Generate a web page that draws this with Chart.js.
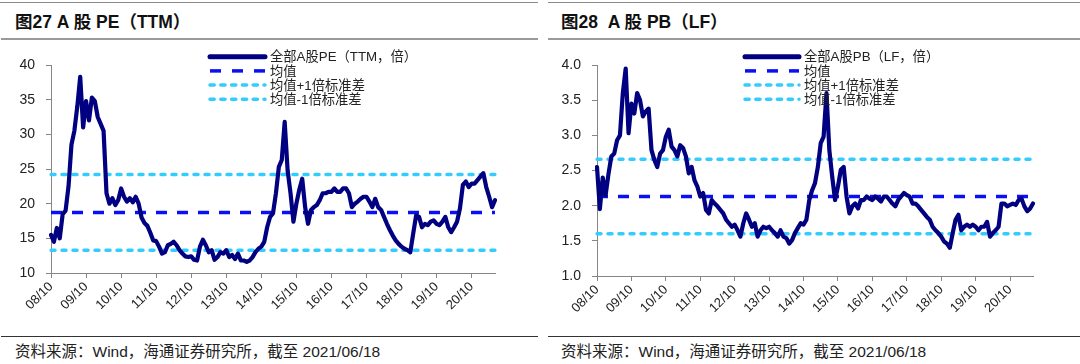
<!DOCTYPE html>
<html>
<head>
<meta charset="utf-8">
<script src="https://cdn.jsdelivr.net/npm/chart.js@4.4.1/dist/chart.umd.min.js"></script>
<style>
  html, body { margin: 0; padding: 0; background: #fff; }
  body { width: 1080px; height: 364px; position: relative; overflow: hidden;
         font-family: "Liberation Sans", Arial, "Noto Sans CJK SC", sans-serif; }
  .rule { position: absolute; height: 0; }
  .title { position: absolute; top: 10px; font-size: 17.5px; font-weight: bold; color: #111; white-space: pre; line-height: 24px; }
  .source { position: absolute; top: 342px; font-size: 15.5px; color: #222; white-space: pre; line-height: 20px; }
  canvas { position: absolute; top: 40px; }
</style>
</head>
<body>
<div class="rule" style="left:0;width:538px;top:2px;border-top:1px solid #8a8a8a"></div>
<div class="rule" style="left:548px;width:532px;top:2px;border-top:1px solid #8a8a8a"></div>
<div class="title" style="left:15px">图27 A 股 PE（TTM）</div>
<div class="title" style="left:561px">图28  A 股 PB（LF）</div>
<div class="rule" style="left:1px;width:537px;top:38px;border-top:2px solid #9a9a9a"></div>
<div class="rule" style="left:548px;width:532px;top:38px;border-top:2px solid #9a9a9a"></div>
<canvas id="pe" width="540" height="290" style="left:0"></canvas>
<canvas id="pb" width="540" height="290" style="left:540px"></canvas>
<div class="rule" style="left:1px;width:537px;top:336px;border-top:1px solid #333"></div>
<div class="rule" style="left:548px;width:532px;top:336px;border-top:1px solid #333"></div>
<div class="source" style="left:15px">资料来源：Wind，海通证券研究所，截至 2021/06/18</div>
<div class="source" style="left:561px">资料来源：Wind，海通证券研究所，截至 2021/06/18</div>

<script>
// monthly readings, Oct 2008 .. Jun 2021
const startYear = 2008;
const startMonth = 10;
const tickLabels = ['08/10', '09/10', '10/10', '11/10', '12/10', '13/10', '14/10',
  '15/10', '16/10', '17/10', '18/10', '19/10', '20/10'];

const peValues = [
  15.5, 14.5, 16.5, 15.0, 18.5, 19.0, 22.5, 28.5, 30.5, 34.0,
  38.3, 31.0, 34.8, 32.0, 35.3, 34.8, 32.5, 31.5, 30.5, 21.5,
  20.0, 20.8, 19.8, 20.5, 22.2, 21.0, 20.3, 20.8, 20.2, 21.0,
  20.0, 18.0, 17.2, 16.8, 15.8, 14.7, 14.6, 13.8, 12.8, 13.0,
  14.0, 14.2, 14.5, 14.0, 13.3, 12.8, 12.4, 12.3, 12.4, 11.9,
  11.8, 13.8, 14.8, 14.0, 13.0, 13.3, 11.9, 12.3, 13.0, 12.8,
  13.3, 12.3, 12.6, 12.0, 12.8, 11.8, 11.8, 11.6, 11.8, 12.3,
  13.0, 13.5, 13.8, 14.5, 16.6, 18.1, 18.6, 21.5, 25.3, 26.3,
  31.8, 24.8, 21.5, 17.4, 20.0, 22.0, 23.6, 19.5, 17.1, 19.1,
  19.5, 19.8, 20.5, 21.5, 21.5, 21.7, 21.7, 22.2, 21.7, 21.7,
  22.2, 22.2, 21.5, 19.5, 20.0, 20.3, 20.7, 21.0, 21.0, 20.3,
  19.5, 20.7, 19.5, 19.1, 18.1, 17.1, 16.2, 15.4, 14.7, 14.2,
  13.8, 13.5, 13.3, 13.0, 15.7, 18.3, 18.1, 16.6, 17.1, 16.9,
  17.4, 17.6, 17.1, 16.9, 17.4, 18.1, 16.6, 15.9, 16.6, 17.4,
  19.3, 22.7, 23.2, 22.4, 22.9, 22.9, 23.4, 23.9, 24.4, 22.4,
  21.0, 19.5, 20.5
];
const peMean = 18.72;
const pePlus = 24.21;
const peMinus = 13.28;

const pbValues = [
  2.55, 1.95, 2.40, 2.15, 2.45, 2.70, 2.74, 2.93, 3.00, 3.60,
  3.95, 3.03, 3.45, 3.31, 3.60, 3.50, 3.27, 3.34, 3.38, 2.79,
  2.65, 2.55, 2.74, 2.79, 2.98, 3.08, 2.84, 2.79, 2.70, 2.86,
  2.82, 2.70, 2.46, 2.55, 2.36, 2.27, 2.13, 2.18, 1.94, 1.89,
  2.08, 2.03, 1.99, 1.94, 1.89, 1.80, 1.75, 1.70, 1.73, 1.65,
  1.56, 1.75, 1.89, 1.80, 1.70, 1.75, 1.56, 1.65, 1.70, 1.68,
  1.70, 1.65, 1.61, 1.56, 1.65, 1.56, 1.54, 1.46, 1.51, 1.61,
  1.68, 1.75, 1.73, 1.80, 2.08, 2.22, 2.32, 2.55, 2.89, 2.98,
  3.60, 2.79, 2.41, 2.08, 2.27, 2.51, 2.55, 2.13, 1.89, 1.99,
  2.03, 1.96, 2.08, 2.08, 2.13, 2.10, 2.08, 2.13, 2.10, 2.06,
  2.13, 2.13, 2.08, 2.03, 1.99, 2.08, 2.13, 2.18, 2.15, 2.13,
  2.03, 2.03, 1.99, 1.94, 1.89, 1.84, 1.80, 1.70, 1.65, 1.61,
  1.56, 1.49, 1.46, 1.40, 1.61, 1.80, 1.87, 1.65, 1.70, 1.73,
  1.70, 1.73, 1.70, 1.65, 1.70, 1.70, 1.77, 1.56, 1.61, 1.65,
  1.70, 2.03, 2.03, 1.99, 2.01, 2.03, 2.01, 2.08, 2.10, 1.99,
  1.92, 1.96, 2.03
];
const pbMean = 2.13;
const pbPlus = 2.66;
const pbMinus = 1.60;

const pad = (n) => String(n).padStart(2, '0');
const months = peValues.map((_, i) => {
  const t = startMonth - 1 + i;
  return pad((startYear + Math.floor(t / 12)) % 100) + '/' + pad((t % 12) + 1);
});

const FONT = '"Liberation Sans", Arial, "Noto Sans CJK SC", sans-serif';
const AXIS = '#868686';

// legend drawn as line samples in the top-right of the plot
const lineLegend = {
  id: 'lineLegend',
  afterDraw(chart, args, opts) {
    const ctx = chart.ctx;
    ctx.save();
    chart.data.datasets.forEach((ds, i) => {
      const y = opts.y + i * opts.rowH;
      ctx.beginPath();
      ctx.setLineDash(ds.legendDash || []);
      ctx.lineCap = ds.borderCapStyle || 'butt';
      ctx.lineWidth = ds.legendWidth || ds.borderWidth;
      ctx.strokeStyle = ds.borderColor;
      ctx.moveTo(opts.x, y);
      ctx.lineTo(opts.x + opts.w, y);
      ctx.stroke();
      ctx.setLineDash([]);
      ctx.fillStyle = '#222';
      ctx.font = '13.3px ' + FONT;
      ctx.textBaseline = 'middle';
      ctx.fillText(ds.label, opts.textX, y + 1);
    });
    ctx.restore();
  }
};

function makeChart(id, seriesName, values, mean, plus, minus, y, layout) {
  const flat = (v) => values.map(() => v);
  new Chart(document.getElementById(id), {
    type: 'line',
    data: {
      labels: months,
      datasets: [
        { label: seriesName, data: values, borderColor: '#000080', borderWidth: 4.2,
          legendWidth: 5, borderCapStyle: 'round', borderJoinStyle: 'round' },
        { label: '均值', data: flat(mean), borderColor: '#0A10F5', borderWidth: 3.5,
          borderDash: [11, 10], legendDash: [11, 11] },
        { label: '均值+1倍标准差', data: flat(plus), borderColor: '#33CCFF', borderWidth: 3.5,
          borderDash: [4, 7], legendDash: [4.2, 6.6], borderCapStyle: 'round' },
        { label: '均值-1倍标准差', data: flat(minus), borderColor: '#33CCFF', borderWidth: 3.5,
          borderDash: [4, 7], legendDash: [4.2, 6.6], borderCapStyle: 'round' },
      ],
    },
    options: {
      responsive: false,
      animation: false,
      layout: { padding: { left: 0, top: 25, right: layout.right, bottom: 0 } },
      elements: { point: { radius: 0 }, line: { tension: 0 } },
      plugins: {
        legend: { display: false },
        tooltip: { enabled: false },
        lineLegend: layout.legend,
      },
      scales: {
        x: {
          afterFit: (s) => { s.height = layout.xHeight; },
          border: { color: AXIS },
          grid: {
            drawOnChartArea: false, tickLength: 5,
            tickColor: (c) => (c.index % 12 === 0 ? AXIS : 'rgba(0,0,0,0)'),
          },
          ticks: {
            autoSkip: false, minRotation: 45, maxRotation: 45, padding: 1,
            color: '#222', font: { family: FONT, size: 13 },
            callback: (v, i) => (tickLabels.includes(months[i]) ? months[i] : ''),
          },
        },
        y: {
          min: y.min, max: y.max,
          afterFit: (s) => { s.width = layout.yWidth; },
          border: { color: AXIS },
          grid: { drawOnChartArea: false, tickLength: 5, color: AXIS },
          ticks: {
            stepSize: y.step, padding: 11, color: '#222',
            font: { family: FONT, size: 14 },
            callback: (v) => (y.digits ? v.toFixed(y.digits) : v),
          },
        },
      },
    },
    plugins: [lineLegend],
  });
}

makeChart('pe', '全部A股PE（TTM，倍）', peValues, peMean, pePlus, peMinus,
  { min: 10, max: 40, step: 5, digits: 0 },
  { right: 45, yWidth: 51, xHeight: 57, legend: { x: 210, w: 55, textX: 270, y: 16.7, rowH: 14.2 } });

makeChart('pb', '全部A股PB（LF，倍）', pbValues, pbMean, pbPlus, pbMinus,
  { min: 1, max: 4, step: 0.5, digits: 1 },
  { right: 47, yWidth: 57, xHeight: 54, legend: { x: 205, w: 54, textX: 264, y: 16.7, rowH: 14.2 } });
</script>
</body>
</html>
